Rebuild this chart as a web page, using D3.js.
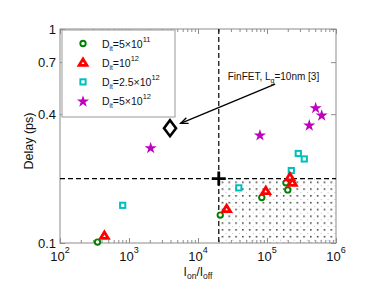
<!DOCTYPE html>
<html><head><meta charset="utf-8">
<script src="https://cdn.jsdelivr.net/npm/d3@7"></script>
<style>body{margin:0;background:#fff}svg{display:block}text{font-family:"Liberation Sans",Arial,sans-serif}</style>
</head><body><svg id="c" width="385" height="298"></svg>
<script>
// ---- data ----
const seriesNames = ["5×10", "10", "2.5×10", "5×10"];
const seriesExp = ["11", "12", "12", "12"];
const circlesX = [350, 2.1e4, 8.4e4, 2.0e5, 1.88e5];
const circlesY = [0.101, 0.135, 0.163, 0.177, 0.191];
const trianglesX = [440, 2.6e4, 9.6e4, 2.15e5, 2.33e5];
const trianglesY = [0.108, 0.144, 0.175, 0.203, 0.191];
const squaresX = [810, 3.9e4, 2.25e5, 2.84e5, 3.47e5];
const squaresY = [0.150, 0.181, 0.218, 0.262, 0.247];
const starsX = [2.06e3, 7.9e4, 5.07e5, 6.2e5, 4.1e5];
const starsY = [0.279, 0.320, 0.429, 0.396, 0.356];
const finfetX = [3.93e3], finfetY = [0.344];
const targetX = [2e4], targetY = [0.2];
const xTickExp = [2, 3, 4, 5, 6];
const yTicks = [0.1, 0.4, 0.7, 1];
const yTickLabels = ["0.1", "0.4", "0.7", "1"];
const arrowFrom = [1.31e5, 0.553], arrowTo = [5.6e3, 0.362];
const annX = 2.7e4, annY = 0.577;

const svg = d3.select("#c");
const L = 60, R = 336, T = 29, B = 243;
const x = d3.scaleLog().domain([1e2, 1e6]).range([L, R]);
const y = d3.scaleLog().domain([0.1, 1]).range([B, T]);
const axisCol = "#8c8c8c";

// stipple pattern
const defs = svg.append("defs");
const pat = defs.append("pattern").attr("id", "dots").attr("patternUnits", "userSpaceOnUse")
  .attr("width", 6.8).attr("height", 6.8).attr("x", x(targetX[0])).attr("y", y(targetY[0]));
pat.append("rect").attr("x", 3).attr("y", 3).attr("width", 1.4).attr("height", 1.4).attr("fill", "#111");
pat.append("rect").attr("x", 0).attr("y", 0).attr("width", 1).attr("height", 1).attr("fill", "#bbb");
svg.append("rect").attr("x", x(targetX[0])).attr("y", y(targetY[0]))
  .attr("width", R - x(targetX[0])).attr("height", B - y(targetY[0])).attr("fill", "url(#dots)");

// axes
const xTickVals = xTickExp.map(e => Math.pow(10, e));
const xMinor = [];
for (let e = 2; e < 6; e++) for (let m = 2; m <= 9; m++) xMinor.push(m * Math.pow(10, e));
function mkX(g, dir) {
  const ax = (dir === "b" ? d3.axisBottom(x) : d3.axisTop(x));
  g.call(ax.tickValues(xTickVals).tickSize(-5).tickFormat(""));
  g.append("g").call((dir === "b" ? d3.axisBottom(x) : d3.axisTop(x)).tickValues(xMinor).tickSize(-3).tickFormat(""));
}
function mkY(g, dir) {
  const ax = (dir === "l" ? d3.axisLeft(y) : d3.axisRight(y));
  g.call(ax.tickValues(yTicks).tickSize(-5).tickFormat(""));
}
const gxb = svg.append("g").attr("transform", `translate(0,${B})`); mkX(gxb, "b");
const gxt = svg.append("g").attr("transform", `translate(0,${T})`); mkX(gxt, "t");
const gyl = svg.append("g").attr("transform", `translate(${L},0)`); mkY(gyl, "l");
const gyr = svg.append("g").attr("transform", `translate(${R},0)`); mkY(gyr, "r");
svg.selectAll(".domain").remove();
svg.selectAll(".tick line").attr("stroke", axisCol);
svg.append("rect").attr("x", L).attr("y", T).attr("width", R - L).attr("height", B - T)
  .attr("fill", "none").attr("stroke", axisCol).attr("stroke-width", 1);

// tick labels
const xl = svg.append("g");
xTickExp.forEach((e, i) => {
  const t = xl.append("text").attr("x", x(xTickVals[i])).attr("y", 261).attr("text-anchor", "middle")
    .attr("font-size", 13).attr("fill", "#111");
  t.append("tspan").text("10");
  t.append("tspan").attr("dy", -8).attr("font-size", 9).text(e);
});
yTicks.forEach((v, i) => {
  svg.append("text").attr("x", L - 4).attr("y", y(v) + 5).attr("text-anchor", "end")
    .attr("font-size", 13).attr("fill", "#111").text(yTickLabels[i]);
});

// axis titles
const xt = svg.append("text").attr("x", (L + R) / 2).attr("y", 276).attr("text-anchor", "middle")
  .attr("font-size", 12).attr("fill", "#111");
xt.append("tspan").text("I");
xt.append("tspan").attr("dy", 3).attr("font-size", 8.5).text("on");
xt.append("tspan").attr("dy", -3).text("/I");
xt.append("tspan").attr("dy", 3).attr("font-size", 8.5).text("off");
svg.append("text").attr("transform", `translate(33,${(T + B) / 2 + 5}) rotate(-90)`).attr("text-anchor", "middle")
  .attr("font-size", 12.5).attr("fill", "#111").text("Delay (ps)");

// dashed lines
svg.append("line").attr("x1", x(targetX[0])).attr("x2", x(targetX[0])).attr("y1", T).attr("y2", B)
  .attr("stroke", "#000").attr("stroke-width", 1.2).attr("stroke-dasharray", "5,3");
svg.append("line").attr("x1", L).attr("x2", R).attr("y1", y(targetY[0])).attr("y2", y(targetY[0]))
  .attr("stroke", "#000").attr("stroke-width", 1.2).attr("stroke-dasharray", "5,3");

// marker drawers
const green = "#008000", red = "#ff0000", cyan = "#00bfbf", mag = "#bf00bf";
function circ(g, cx, cy) { g.append("circle").attr("cx", cx).attr("cy", cy).attr("r", 2.7).attr("fill", "#fff").attr("stroke", green).attr("stroke-width", 1.9); }
function tri(g, cx, cy) { g.append("path").attr("d", `M${cx},${cy - 3.8}L${cx + 3.9},${cy + 2.6}L${cx - 3.9},${cy + 2.6}Z`).attr("fill", "#fff").attr("stroke", red).attr("stroke-width", 2.8).attr("stroke-linejoin", "miter"); }
function sq(g, cx, cy) { g.append("rect").attr("x", cx - 2.6).attr("y", cy - 2.6).attr("width", 5.2).attr("height", 5.2).attr("fill", "#fff").attr("stroke", cyan).attr("stroke-width", 2); }
const starPath = d3.symbol().type(d3.symbolStar).size(46)();
function star(g, cx, cy) { g.append("path").attr("d", starPath).attr("transform", `translate(${cx},${cy + 0.5})`).attr("fill", mag); }

const gm = svg.append("g");
starsX.forEach((v, i) => star(gm, x(v), y(starsY[i])));
squaresX.forEach((v, i) => sq(gm, x(v), y(squaresY[i])));
circlesX.forEach((v, i) => circ(gm, x(v), y(circlesY[i])));
trianglesX.forEach((v, i) => tri(gm, x(v), y(trianglesY[i])));

// finfet diamond
finfetX.forEach((v, i) => {
  const cx = x(v), cy = y(finfetY[i]);
  gm.append("path").attr("d", `M${cx},${cy - 8}L${cx + 6},${cy}L${cx},${cy + 8}L${cx - 6},${cy}Z`)
    .attr("fill", "#fff").attr("stroke", "#000").attr("stroke-width", 2.6);
});
// target plus
targetX.forEach((v, i) => {
  const cx = x(v), cy = y(targetY[i]);
  gm.append("path").attr("d", `M${cx - 7},${cy}H${cx + 7}M${cx},${cy - 7}V${cy + 7}`)
    .attr("stroke", "#000").attr("stroke-width", 2.8).attr("fill", "none");
});

// annotation arrow
const ax1 = x(arrowFrom[0]), ay1 = y(arrowFrom[1]), ax2 = x(arrowTo[0]), ay2 = y(arrowTo[1]);
svg.append("line").attr("x1", ax1).attr("y1", ay1).attr("x2", ax2).attr("y2", ay2).attr("stroke", "#000").attr("stroke-width", 1.3);
const ang = Math.atan2(ay1 - ay2, ax1 - ax2), hl = 8, ha = 0.38;
svg.append("path").attr("d", `M${ax2 + hl * Math.cos(ang + ha)},${ay2 + hl * Math.sin(ang + ha)}L${ax2},${ay2}L${ax2 + hl * Math.cos(ang - ha)},${ay2 + hl * Math.sin(ang - ha)}`)
  .attr("stroke", "#000").attr("stroke-width", 1.3).attr("fill", "none");
const at = svg.append("text").attr("x", x(annX)).attr("y", y(annY)).attr("font-size", 10).attr("fill", "#111");
at.append("tspan").text("FinFET, L");
at.append("tspan").attr("dy", 3).attr("font-size", 7).text("g");
at.append("tspan").attr("dy", -3).text("=10nm [3]");

// legend
const lg = svg.append("g");
lg.append("rect").attr("x", 62).attr("y", 30).attr("width", 113).attr("height", 87)
  .attr("fill", "#fff").attr("stroke", "#999").attr("stroke-width", 1);
const drawers = [circ, tri, sq, star];
seriesNames.forEach((n, i) => {
  const yy = 43.5 + i * 19.2;
  drawers[i](lg, 83, yy);
  const t = lg.append("text").attr("x", 102).attr("y", yy + 4).attr("font-size", 10.5).attr("fill", "#111");
  t.append("tspan").text("D");
  t.append("tspan").attr("dy", 3).attr("font-size", 6.5).text("it");
  t.append("tspan").attr("dy", -3).text("=" + n);
  t.append("tspan").attr("dy", -6).attr("font-size", 7.5).text(seriesExp[i]);
});
</script></body></html>
